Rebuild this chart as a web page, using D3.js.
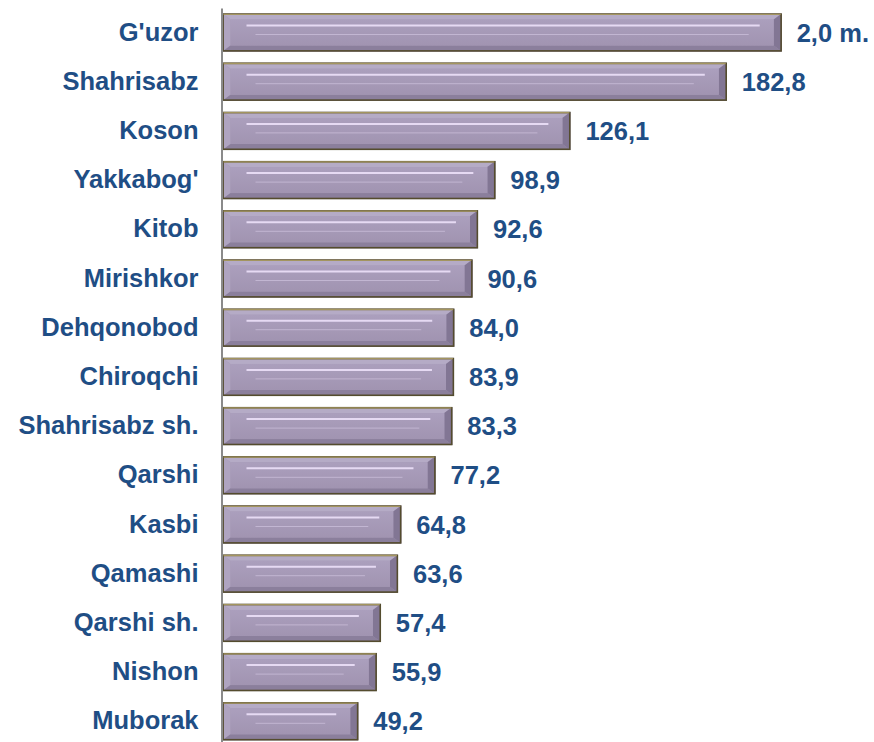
<!DOCTYPE html>
<html><head><meta charset="utf-8">
<script src="https://cdn.jsdelivr.net/npm/d3@7"></script>
<style>body{margin:0;background:#fff}svg{display:block}</style>
</head><body>
<script>
const categories = ["G'uzor","Shahrisabz","Koson","Yakkabog'","Kitob","Mirishkor","Dehqonobod","Chiroqchi","Shahrisabz sh.","Qarshi","Kasbi","Qamashi","Qarshi sh.","Nishon","Muborak"];
const values = [2000,182.8,126.1,98.9,92.6,90.6,84.0,83.9,83.3,77.2,64.8,63.6,57.4,55.9,49.2];
const valueLabels = ["2,0 m.","182,8","126,1","98,9","92,6","90,6","84,0","83,9","83,3","77,2","64,8","63,6","57,4","55,9","49,2"];
const axisMax = 202.7; // bars beyond this are cut off (broken bar)

const W = 874, H = 742;
const svg = d3.select("body").append("svg").attr("width", W).attr("height", H);
const defs = svg.append("defs");
const g1 = defs.append("linearGradient").attr("id","face").attr("x1",0).attr("y1",0).attr("x2",0).attr("y2",1);
g1.append("stop").attr("offset","0%").attr("stop-color","#ab9fbd");
g1.append("stop").attr("offset","100%").attr("stop-color","#a194b1");

const x = d3.scaleLinear().domain([0, axisMax]).range([222.5, 781.7]).clamp(true);
const y = d3.scaleBand().domain(categories).range([7.9, 745.9]).paddingInner(0.228).paddingOuter(0.114);

const data = categories.map((c,i)=>({c, v: values[i], lab: valueLabels[i]}));

const bars = svg.append("g").selectAll("g").data(data).join("g");

bars.each(function(d){
  const gg = d3.select(this);
  const x0 = x(0), x1 = x(d.v), y0 = y(d.c), h = y.bandwidth(), y1 = y0 + h;
  const bl = 8, bt = 6, bb = 6, br = 8;
  gg.append("rect").attr("x",x0).attr("y",y0).attr("width",x1-x0).attr("height",h).attr("fill","#a598b5");
  const pts = a => a.map(p=>p.join(",")).join(" ");
  gg.append("polygon").attr("points",pts([[x0,y0],[x1,y0],[x1-br,y0+bt],[x0+bl,y0+bt]])).attr("fill","#b5abc6");
  gg.append("polygon").attr("points",pts([[x0,y0],[x0+bl,y0+bt],[x0+bl,y1-bb],[x0,y1]])).attr("fill","#afa4c0");
  gg.append("polygon").attr("points",pts([[x0,y1],[x0+bl,y1-bb],[x1-br,y1-bb],[x1,y1]])).attr("fill","#8b7f9c");
  gg.append("polygon").attr("points",pts([[x1,y0],[x1,y1],[x1-br,y1-bb],[x1-br,y0+bt]])).attr("fill","#827694");
  gg.append("rect").attr("x",x0+bl).attr("y",y0+bt).attr("width",Math.max(0,x1-x0-bl-br)).attr("height",h-bt-bb).attr("fill","url(#face)");
  gg.append("line").attr("x1",x0+bl+16).attr("x2",x1-br-14).attr("y1",y0+bt+6).attr("y2",y0+bt+6).attr("stroke","#e6daf3").attr("stroke-width",2);
  gg.append("line").attr("x1",x0+bl+25).attr("x2",x1-br-25).attr("y1",y0+h/2+2).attr("y2",y0+h/2+2).attr("stroke","#c2b6d2").attr("stroke-width",1);
  gg.append("rect").attr("x",x0+0.6).attr("y",y0+0.6).attr("width",x1-x0-1.2).attr("height",h-1.2).attr("fill","none").attr("stroke","#544c2e").attr("stroke-width",1.6);
  gg.append("line").attr("x1",x0+1).attr("x2",x1-1).attr("y1",y0+0.8).attr("y2",y0+0.8).attr("stroke","#a3955f").attr("stroke-width",1.3);
});

bars.append("text")
  .attr("x", d => x(d.v) + 15)
  .attr("y", d => y(d.c) + y.bandwidth()/2)
  .attr("dy","0.36em")
  .attr("fill","#1f4e85")
  .style("font", "bold 25.5px 'Liberation Sans', Arial, sans-serif")
  .text(d => d.lab);

const axis = svg.append("g").attr("transform","translate(221.5,0)")
  .call(d3.axisLeft(y).tickSize(0).tickPadding(23));
axis.select(".domain").attr("stroke","#8a8a8a").attr("stroke-width",2);
axis.selectAll("text").attr("fill","#1f4e85")
  .style("font","bold 25.5px 'Liberation Sans', Arial, sans-serif");
</script>
</body></html>
